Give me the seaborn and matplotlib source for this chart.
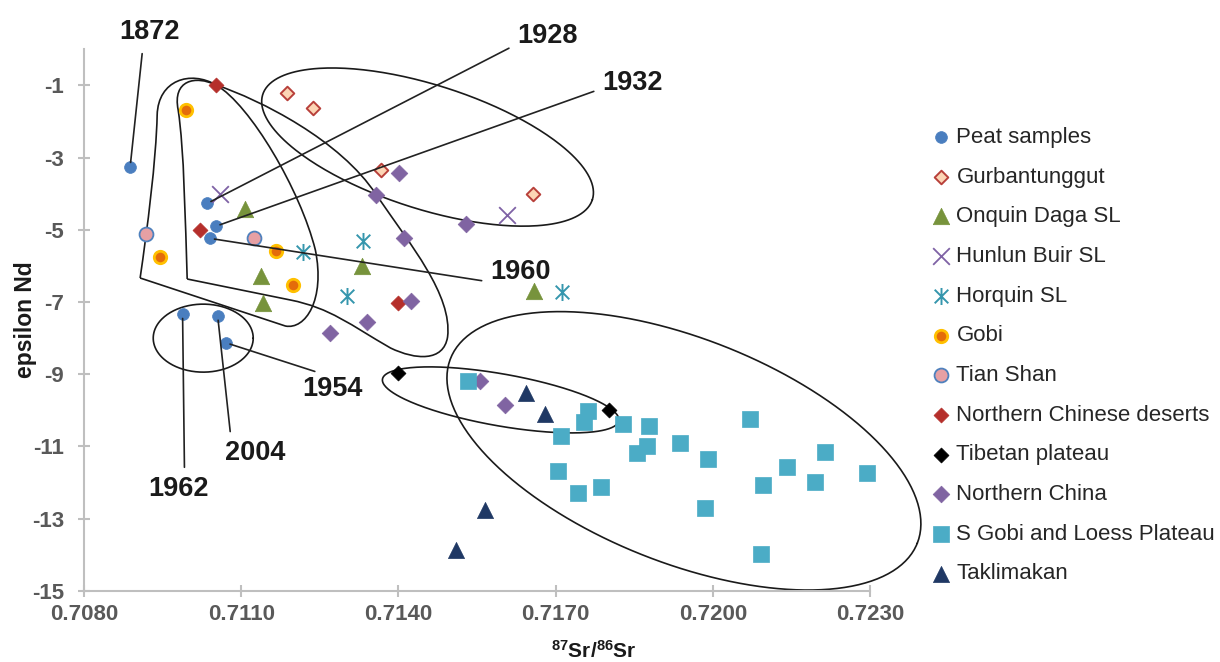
# Importo las librerías necesarias
import numpy as np
import pandas as pd
import seaborn as sns
import matplotlib.pyplot as plt
from matplotlib.path import Path
from matplotlib.patches import PathPatch

# Valores: 87Sr/86Sr (x) y epsilon Nd (y)
peat_x = [0.70888, 0.71035, 0.71052, 0.71041, 0.70988, 0.71055, 0.71071]
peat_y = [-3.25, -4.27, -4.90, -5.24, -7.34, -7.39, -8.13]
peat_anios = ['1872', '1928', '1932', '1960', '1962', '2004', '1954']

gurb_x = [0.71187, 0.71237, 0.71367, 0.71657]
gurb_y = [-1.20, -1.64, -3.34, -4.02]

onq_x = [0.71108, 0.71138, 0.71141, 0.71331, 0.71659]
onq_y = [-4.43, -6.28, -7.02, -6.00, -6.69]

hun_x = [0.71060, 0.71608]
hun_y = [-4.02, -4.59]

hor_x = [0.71217, 0.71332, 0.71302, 0.71712]
hor_y = [-5.61, -5.30, -6.83, -6.71]

gobi_x = [0.70995, 0.70945, 0.71167, 0.71198]
gobi_y = [-1.68, -5.76, -5.58, -6.53]

tian_x = [0.70919, 0.71125]
tian_y = [-5.13, -5.24]

ncd_x = [0.71052, 0.71022, 0.71400]
ncd_y = [-1.00, -5.01, -7.02]

tib_x = [0.71400, 0.71802]
tib_y = [-8.97, -9.99]

nch_x = [0.71401, 0.71357, 0.71410, 0.71423, 0.71529, 0.71340, 0.71270, 0.71555, 0.71603]
nch_y = [-3.42, -4.04, -5.24, -6.96, -4.84, -7.54, -7.87, -9.18, -9.85]

sgobi_x = [0.71533, 0.71761, 0.71754, 0.71710, 0.71828, 0.71878, 0.71875, 0.71855, 0.71938, 0.71991, 0.72071,
           0.72213, 0.72141, 0.72096, 0.72194, 0.72294, 0.71705, 0.71786, 0.71742, 0.71985, 0.72091]
sgobi_y = [-9.18, -10.02, -10.33, -10.71, -10.39, -10.43, -10.99, -11.19, -10.91, -11.35, -10.24,
           -11.16, -11.58, -12.07, -11.97, -11.73, -11.68, -12.11, -12.30, -12.69, -13.98]

takl_x = [0.71643, 0.71680, 0.71566, 0.71510]
takl_y = [-9.53, -10.11, -12.76, -13.87]

x_ticks = [0.7080, 0.7110, 0.7140, 0.7170, 0.7200, 0.7230]
y_ticks = [-1, -3, -5, -7, -9, -11, -13, -15]

# Estilo
sns.set_style('white')
plt.rcParams['font.family'] = ['Liberation Sans', 'DejaVu Sans']
plt.rcParams['mathtext.fontset'] = 'custom'
plt.rcParams['mathtext.rm'] = 'Liberation Sans'
plt.rcParams['mathtext.bf'] = 'Liberation Sans:bold'

fig = plt.figure(figsize=(12.2, 6.62), dpi=100)
ax = fig.add_axes([0.0689, 0.1073, 0.6443, 0.8184])
ax.set_xlim(0.7080, 0.7230)
ax.set_ylim(-15, 0)

# marcador tipo asterisco de Excel (x con linea vertical)
star = Path([(0, -1), (0, 1), (-0.8, -0.8), (0.8, 0.8), (-0.8, 0.8), (0.8, -0.8)],
            [Path.MOVETO, Path.LINETO] * 3)

# nombre, x, y, marcador, tamaño, color, borde, grosor
series = [
    ('Peat samples', peat_x, peat_y, 'o', 72, '#4a7ebf', '#4a7ebf', 0.5),
    ('Gurbantunggut', gurb_x, gurb_y, 'D', 48, '#fcd5b5', '#b8403a', 1.4),
    ('Onquin Daga SL', onq_x, onq_y, '^', 140, '#77933c', '#77933c', 0.5),
    ('Hunlun Buir SL', hun_x, hun_y, 'x', 144, '#7f62a5', None, 1.3),
    ('Horquin SL', hor_x, hor_y, star, 150, '#3596ad', '#3596ad', 1.4),
    ('Gobi', gobi_x, gobi_y, 'o', 80, '#e46c0a', '#ffc000', 2.0),
    ('Tian Shan', tian_x, tian_y, 'o', 100, '#e6a0a4', '#4f81bd', 1.3),
    ('Northern Chinese deserts', ncd_x, ncd_y, 'D', 58, '#b52f2b', '#b52f2b', 0.5),
    ('Tibetan plateau', tib_x, tib_y, 'D', 58, '#000000', '#000000', 0.5),
    ('Northern China', nch_x, nch_y, 'D', 72, '#8064a2', '#8064a2', 0.5),
    ('S Gobi and Loess Plateau', sgobi_x, sgobi_y, 's', 130, '#4bacc6', '#4bacc6', 0.5),
    ('Taklimakan', takl_x, takl_y, '^', 135, '#1f3864', '#1f3864', 0.5),
]

for nombre, xs, ys, mk, s, fc, ec, lw in series:
    df = pd.DataFrame({'x': xs, 'y': ys})
    kws = dict(marker=mk, s=s, color=fc, linewidth=lw, label=nombre, zorder=3, clip_on=False)
    if ec is not None:
        kws['edgecolor'] = ec
    sns.scatterplot(data=df, x='x', y='y', ax=ax, **kws)

# Etiquetas de años de las muestras de turba
anio_tx = [0.709242, 0.716842, 0.718467, 0.716332, 0.709802, 0.711268, 0.712733]
anio_ty = [0.48, 0.36, -0.94, -6.16, -12.18, -11.19, -9.42]
anio_rel = [(0.4, 0), (0, 0.2), (0, 0.3), (0.28, 0), (0.6, 1), (0.1, 1), (0.47, 1)]
for i, anio in enumerate(peat_anios):
    ax.annotate(anio, xy=(peat_x[i], peat_y[i]), xytext=(anio_tx[i], anio_ty[i]),
                ha='center', va='center', fontsize=19.5, fontweight='bold', color='#1a1a1a',
                annotation_clip=False, zorder=4,
                arrowprops=dict(arrowstyle='-', color='#222222', lw=1.2, relpos=anio_rel[i],
                                shrinkA=4, shrinkB=3))

# Contornos dibujados a mano
loop_a = [(0.709070, -6.335),
          (0.709204, -5.006), (0.709376, -3.068), (0.709395, -1.822),
          (0.709414, -0.853), (0.710026, -0.576), (0.710523, -0.992),
          (0.711172, -1.545), (0.712128, -3.899), (0.712414, -5.560),
          (0.712606, -6.944), (0.712223, -7.775), (0.711841, -7.664),
          (0.709070, -6.335)]
loop_b = [(0.709968, -6.363),
          (0.709930, -4.729), (0.709911, -2.791), (0.709796, -1.684),
          (0.709682, -0.853), (0.710121, -0.715), (0.710523, -0.992),
          (0.711363, -1.407), (0.712892, -2.514), (0.713580, -4.037),
          (0.714230, -5.421), (0.715032, -6.806), (0.714937, -7.968),
          (0.714860, -8.661), (0.714325, -8.605), (0.713848, -8.273),
          (0.713083, -7.636), (0.712701, -7.166), (0.711937, -6.944),
          (0.709968, -6.363)]
for loop in [loop_a, loop_b]:
    codes = [Path.MOVETO] + [Path.CURVE4] * (len(loop) - 2) + [Path.LINETO]
    ax.add_patch(PathPatch(Path(loop, codes), fill=False, edgecolor='#1a1a1a', lw=1.2, clip_on=False))


def elipse(cx, cy, a, b, ang):
    # a y b en pixeles, angulo en grados (pantalla)
    t = np.linspace(0, 2 * np.pi, 300)
    c = ax.transData.transform((cx, cy))
    th = np.deg2rad(ang)
    px = c[0] + a * np.cos(t) * np.cos(th) - b * np.sin(t) * np.sin(th)
    py = c[1] + a * np.cos(t) * np.sin(th) + b * np.sin(t) * np.cos(th)
    pts = ax.transData.inverted().transform(np.column_stack([px, py]))
    ax.plot(pts[:, 0], pts[:, 1], color='#1a1a1a', lw=1.2, clip_on=False, zorder=2)


elipse(0.714555, -2.71, 173, 62, -17.7)
elipse(0.715950, -9.71, 120, 26, -10)
elipse(0.719447, -11.12, 251, 112, -21.6)
elipse(0.710274, -8.00, 50, 34, 0)

# Ejes
sns.despine(ax=ax)
for lado in ['left', 'bottom']:
    ax.spines[lado].set_color('#bfbfbf')
    ax.spines[lado].set_linewidth(1.5)
ax.set_xticks(x_ticks)
ax.set_xticklabels([f'{v:.4f}' for v in x_ticks])
ax.set_yticks(y_ticks)
ax.set_yticklabels([str(v) for v in y_ticks])
ax.tick_params(axis='both', bottom=True, left=True, direction='inout', length=9, width=1.5,
               color='#bfbfbf', labelsize=16, labelcolor='#595959')
ax.tick_params(axis='x', pad=5)
ax.tick_params(axis='y', pad=10)
for lab in ax.get_xticklabels() + ax.get_yticklabels():
    lab.set_fontweight('bold')

ax.set_xlabel(r'$\mathbf{{}^{87}Sr/{}^{86}Sr}$', fontsize=15, color='#1a1a1a')
ax.xaxis.set_label_coords(0.649, -0.0904)
ax.set_ylabel('epsilon Nd', fontsize=16.5, fontweight='bold', color='#1a1a1a')
ax.yaxis.set_label_coords(-0.0598, 0.5)

leg = ax.legend(loc='upper left', bbox_to_anchor=(932 / 1220, 1 - 127 / 662), bbox_transform=fig.transFigure,
                frameon=False, fontsize=16, handlelength=0.8, handletextpad=0.3, labelspacing=0.84,
                borderpad=0, borderaxespad=0, markerscale=1)

fig.savefig('out.png', dpi=100)
